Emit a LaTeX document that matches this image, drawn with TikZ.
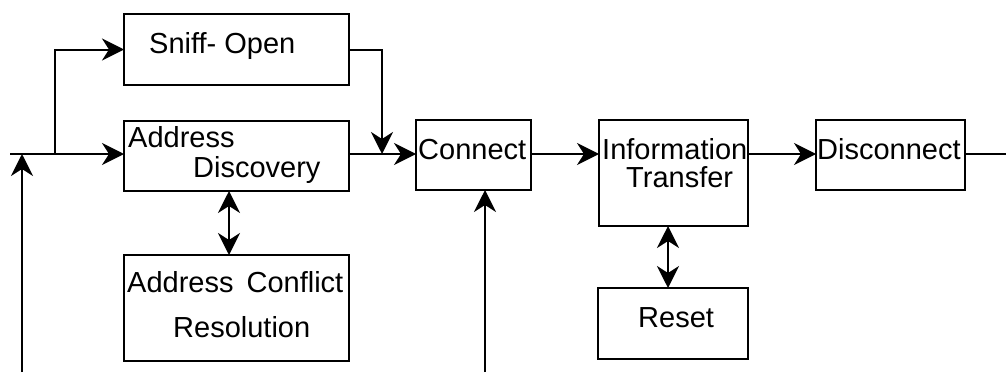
\documentclass[tikz,border=0pt]{standalone}
\usepackage{fontspec}
\setmainfont{Liberation Sans}
\usetikzlibrary{arrows.meta}
\begin{document}
\begin{tikzpicture}[x=1pt,y=-1pt,
  box/.style={draw, line width=2.2pt, rectangle, inner sep=0pt, outer sep=0pt},
  lbl/.style={anchor=base west, inner sep=0pt, font=\fontsize{29}{35}\selectfont},
  flow/.style={line width=2pt},
  head/.style={Stealth[length=22pt,width=22pt,inset=7pt]},
  tip/.style={-{Stealth[length=22pt,width=22pt,inset=7pt]}},
  both/.style={{Stealth[length=22pt,width=22pt,inset=7pt]}-{Stealth[length=22pt,width=22pt,inset=7pt]}}]
\useasboundingbox (0,0) rectangle (1006,372);

% boxes
\node[box, minimum width=225pt, minimum height=71pt]  (sniff) at (236.5,49.5) {};
\node[box, minimum width=225pt, minimum height=70pt]  (ad)    at (236.5,156)  {};
\node[box, minimum width=225pt, minimum height=106pt] (acr)   at (236.5,308)  {};
\node[box, minimum width=115pt, minimum height=70pt]  (conn)  at (473.5,155)  {};
\node[box, minimum width=149pt, minimum height=106pt] (info)  at (673.5,173)  {};
\node[box, minimum width=150pt, minimum height=71pt]  (reset) at (673,323.5)  {};
\node[box, minimum width=149pt, minimum height=70pt]  (disc)  at (890.5,155)  {};

% labels
\node[lbl] (tsniff) at (149,53)  {Sniff- Open};
\node[lbl] (tad1)   at (128,147) {Address};
\node[lbl] (tad2)   at (193,177) {Discovery};
\node[lbl] (tacr1)  at (127,292) {Address\hspace{0.45em}Conflict};
\node[lbl] (tacr2)  at (173,337) {Resolution};
\node[lbl] (tconn)  at (418,159) {Connect};
\node[lbl] (tinfo1) at (602,159) {Information};
\node[lbl] (tinfo2) at (626,187) {Transfer};
\node[lbl] (tdisc)  at (817,159) {Disconnect};
\node[lbl] (treset) at (638,327) {Reset};

% free ends and junctions
\coordinate (in)    at (10,154);
\coordinate (split) at (55,154);
\coordinate (merge) at (382,154);
\coordinate (lin)   at (22,372);
\coordinate (cin)   at (485,372);
\coordinate (out)   at (1006,154);
\coordinate (adx)   at (229,0);
\coordinate (infox) at (668,0);

% main flow
\draw[flow, tip] (in) -- (in -| ad.west);
\draw[flow, tip] (split) |- (sniff.west);
\draw[flow, tip] (sniff.east) -| (merge);
\draw[flow, tip] (in -| ad.east) -- (in -| conn.west);
\draw[flow, tip] (lin) -- (lin |- in);
\draw[flow, tip] (cin) -- (cin |- conn.south);
\draw[flow, tip] (in -| conn.east) -- (in -| info.west);
\draw[flow, tip] (in -| info.east) -- (in -| disc.west);
\draw[flow] (in -| disc.east) -- (out);

% two-way links
\draw[flow, both] (adx |- ad.south) -- (adx |- acr.north);
\draw[flow, both] (infox |- info.south) -- (infox |- reset.north);
\end{tikzpicture}
\end{document}
